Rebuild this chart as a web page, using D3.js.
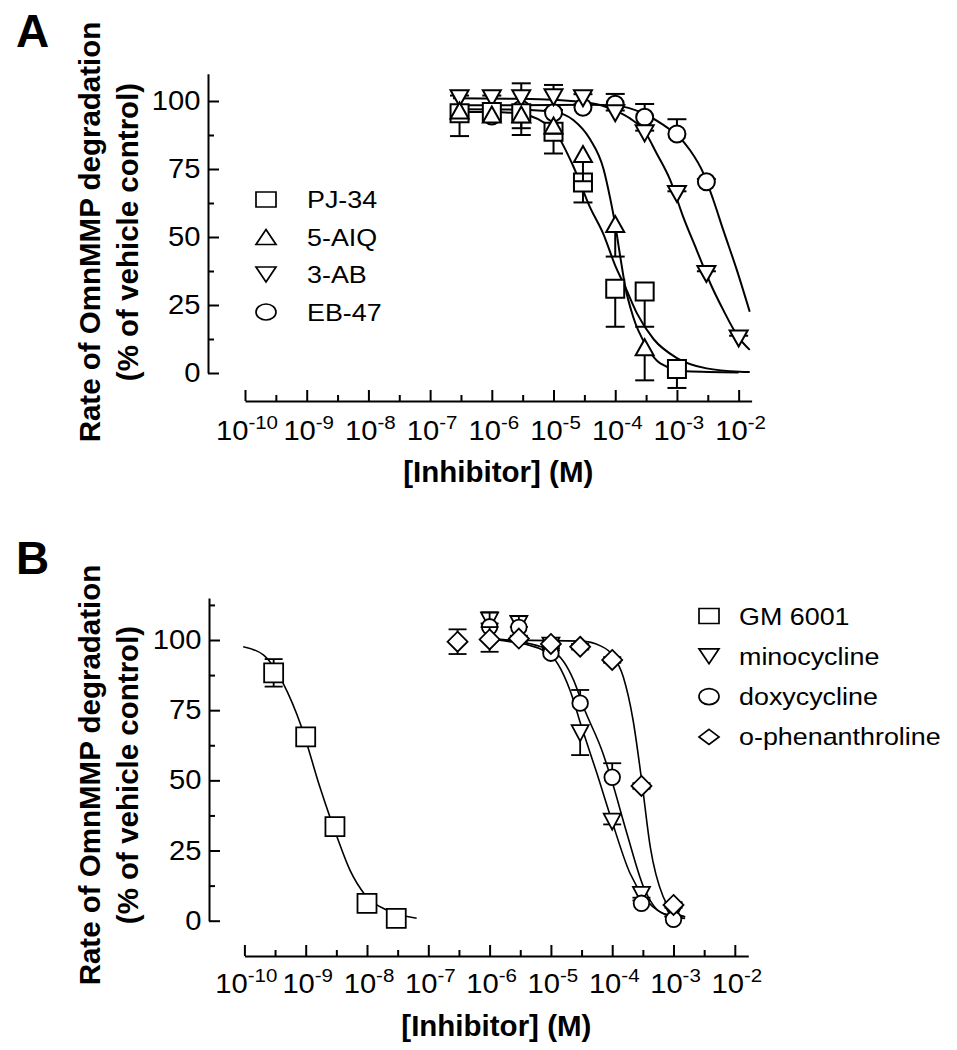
<!DOCTYPE html>
<html>
<head>
<meta charset="utf-8">
<script src="https://cdn.jsdelivr.net/npm/d3@7"></script>
<style>
  body { margin: 0; background: #fff; }
  svg { display: block; }
</style>
</head>
<body>
<svg id="chart" width="957" height="1050"></svg>
<script>
  // ---- Panel A : PARP inhibitors (concentration in M, % of vehicle control, SEM) ----
  var concA = [3e-7, 1e-6, 3e-6, 1e-5, 3e-5, 1e-4, 3e-4, 1e-3, 3e-3, 1e-2];
  var pj34Val = [95.5, 96, 95.5, 88.7, 70, 31, 30, 1.5];
  var pj34Err = [8.4, 2, 8, 8, 7.3, 14, 13, 7];
  var aiqVal = [96.5, 95, 95, 91, 80.5, 54.8, 9.5];
  var aiqErr = [2, 2, 5, 3, 10, 12, 12.2];
  var abVal = [101, 101, 101, 101.4, 101, 95.5, 88.1, 65.8, 36.4, 12.7];
  var abErr = [1, 1, 5.5, 4.5, 1.5, 1, 1, 1, 1, 1];
  var ebConc = [1e-6, 3e-6, 1e-5, 3e-5, 1e-4, 3e-4, 1e-3, 3e-3];
  var ebVal = [94.5, 97, 95.7, 97.7, 98.8, 94, 87.9, 70.3];
  var ebErr = [1, 1, 1, 1, 3.8, 4.9, 5.4, 1];

  // fitted curves (log10 M, %)
  var pj34CurveX = [-6.63, -6.0, -5.54, -5.0, -4.68, -4.41, -4.19, -4.0, -3.84, -3.65, -3.38, -3.0, -2.52, -1.98, -1.82];
  var pj34CurveY = [96, 96, 95.3, 89.3, 76, 61, 51, 39.5, 31.7, 22, 12.5, 5.5, 1.7, 0.5, 0.4];
  var aiqCurveX = [-6.63, -5.54, -5.0, -4.68, -4.41, -4.19, -4.08, -4.0, -3.92, -3.84, -3.71, -3.49, -3.27, -2.84, -2.0];
  var aiqCurveY = [97, 96.8, 96, 93, 86, 75, 64, 54.5, 43, 32, 20.7, 9.7, 3.5, 0.6, 0.2];
  var abCurveX = [-6.63, -5.54, -4.41, -4.0, -3.76, -3.52, -3.33, -3.11, -2.9, -2.68, -2.46, -2.25, -2.01, -1.82];
  var abCurveY = [101, 100.8, 99.3, 96.5, 93.6, 88.7, 80.8, 71.0, 57.5, 45.2, 33.0, 23.2, 13.4, 8.5];
  var ebCurveX = [-6.63, -5.0, -4.41, -4.0, -3.55, -3.22, -3.0, -2.79, -2.57, -2.41, -2.25, -2.03, -1.82];
  var ebCurveY = [98.4, 98.5, 98.6, 98.3, 95.5, 91.2, 87.5, 82.0, 73.4, 63.6, 52.6, 37.9, 22.5];

  // ---- Panel B : MMP inhibitors ----
  var gmConc = [3e-10, 1e-9, 3e-9, 1e-8, 3e-8];
  var gmVal = [88.3, 65.5, 33.5, 6.2, 0.8];
  var gmErr = [4.9, 1, 1, 1, 0.5];
  var tetraConc = [1e-6, 3e-6, 1e-5, 3e-5, 1e-4, 3e-4, 1e-3];
  var minoVal = [106.9, 105.7, 98, 66.8, 35.3, 9.2, 2.5];
  var minoErr = [1, 1, 1, 7.8, 1, 1, 1];
  var doxyVal = [104.7, 104.5, 95.3, 77.5, 51.1, 6.2, 0.5];
  var doxyErr = [5.2, 4, 1, 4.7, 5, 1, 1];
  var ophenConc = [3e-7, 1e-6, 3e-6, 1e-5, 3e-5, 1e-4, 3e-4, 1e-3];
  var ophenVal = [99.4, 100.2, 100.5, 98.6, 97.6, 92.9, 48, 5.6];
  var ophenErr = [4.4, 4.4, 1, 1, 1, 1, 1, 1];

  var gmCurveX = [-10.02, -9.69, -9.37, -9.07, -8.77, -8.49, -8.28, -8.03, -7.68, -7.19];
  var gmCurveY = [97.6, 94.7, 84.6, 69.1, 47.7, 29.9, 18.1, 9.2, 3.8, 0.9];
  var minoCurveX = [-6.0, -5.72, -5.07, -4.69, -4.5, -4.25, -4.01, -3.71, -3.49, -3.17, -2.81];
  var minoCurveY = [100.3, 99.6, 95.8, 82.2, 69.1, 52.5, 35.9, 16.9, 8.6, 2.6, 0.8];
  var doxyCurveX = [-6.0, -5.72, -4.96, -4.63, -4.47, -4.15, -4.01, -3.76, -3.49, -3.17, -2.81];
  var doxyCurveY = [100.5, 100, 95.8, 85.7, 76.2, 59.6, 50.1, 31.1, 12.1, 2.6, 1.4];
  var ophenCurveX = [-6.0, -4.5, -4.2, -3.99, -3.82, -3.66, -3.52, -3.38, -3.17, -2.95, -2.81];
  var ophenCurveY = [100, 99.6, 98, 94.5, 86.9, 71.5, 50.1, 26.4, 8.6, 2.6, 1.4];

  var yTicks = [0, 25, 50, 75, 100];
  var decades = [-10, -9, -8, -7, -6, -5, -4, -3, -2];
  var yTitle1 = "Rate of OmnMMP degradation";
  var yTitle2 = "(% of vehicle control)";
  var xTitle = "[Inhibitor] (M)";

  var FONT = '"Liberation Sans", Arial, Helvetica, sans-serif';
  var svg = d3.select("#chart").style("font-family", FONT);

  // outline of a marker, hw/hh = half width / half height
  function shapePath(shape, hw, hh) {
    if (shape === "square") return "M" + -hw + "," + -hh + "H" + hw + "V" + hh + "H" + -hw + "Z";
    if (shape === "up") return "M0," + -hh + "L" + hw + "," + hh + "L" + -hw + "," + hh + "Z";
    if (shape === "down") return "M0," + hh + "L" + hw + "," + -hh + "L" + -hw + "," + -hh + "Z";
    if (shape === "diamond") return "M0," + -hh + "L" + hw + ",0L0," + hh + "L" + -hw + ",0Z";
    return "M" + -hw + ",0A" + hw + "," + hh + " 0 1,0 " + hw + ",0A" + hw + "," + hh + " 0 1,0 " + -hw + ",0Z";
  }

  function drawPanel(p) {
    var g = svg.append("g");
    var x = d3.scaleLog().domain([1e-10, Math.pow(10, p.xEnd)]).range([p.x0, p.x1]);
    var y = d3.scaleLinear().domain([0, p.yTop]).range([p.y0, p.y1]);

    // panel letter
    g.append("text").attr("x", 16).attr("y", p.letterY)
      .attr("font-size", 46).attr("font-weight", "bold").text(p.letter);

    // y title (two lines, rotated)
    [[yTitle1, 100], [yTitle2, 138]].forEach(function(t) {
      g.append("text")
        .attr("transform", "translate(" + t[1] + "," + p.titleCY + ") rotate(-90)")
        .attr("text-anchor", "middle").attr("font-size", 29.5).attr("font-weight", "bold")
        .text(t[0]);
    });

    // y axis
    var yAx = g.append("g").attr("transform", "translate(" + p.yAxisX + ",0)")
      .call(d3.axisLeft(y).tickValues(yTicks).tickSizeInner(-11).tickSizeOuter(0).tickPadding(7));
    yAx.selectAll("path, line").attr("stroke", "#000").attr("stroke-width", 2);
    yAx.selectAll("text").attr("font-size", 27).attr("font-family", FONT).attr("fill", "#000")
      .attr("transform", "scale(1.08,1)");
    var yMinor = g.append("g").attr("transform", "translate(" + p.yAxisX + ",0)")
      .call(d3.axisLeft(y).tickValues(p.yMinor).tickSizeInner(-6).tickSizeOuter(0).tickFormat(""));
    yMinor.select(".domain").remove();
    yMinor.selectAll("line").attr("stroke", "#000").attr("stroke-width", 2);

    // x axis
    var majors = decades.map(function(e) { return Math.pow(10, e); });
    var minors = decades.slice(0, -1).map(function(e) { return Math.pow(10, e + 0.5); });
    var xAx = g.append("g").attr("transform", "translate(0," + p.xAxisY + ")")
      .call(d3.axisBottom(x).tickValues(majors).tickSizeInner(-11).tickSizeOuter(0).tickFormat(""));
    xAx.selectAll("path, line").attr("stroke", "#000").attr("stroke-width", 2);
    var xMinor = g.append("g").attr("transform", "translate(0," + p.xAxisY + ")")
      .call(d3.axisBottom(x).tickValues(minors).tickSizeInner(-6).tickSizeOuter(0).tickFormat(""));
    xMinor.select(".domain").remove();
    xMinor.selectAll("line").attr("stroke", "#000").attr("stroke-width", 2);

    decades.forEach(function(e) {
      var t = g.append("g")
        .attr("transform", "translate(" + (x(Math.pow(10, e)) + 2) + "," + p.xLabelY + ") scale(1.08,1)")
        .append("text").attr("text-anchor", "middle").attr("font-size", 27);
      t.append("tspan").text("10");
      t.append("tspan").attr("font-size", 19).attr("dy", -11).text("-" + Math.abs(e));
    });

    g.append("text").attr("x", (p.x0 + p.x1) / 2).attr("y", p.xTitleY)
      .attr("text-anchor", "middle").attr("font-size", 29.5).attr("font-weight", "bold")
      .text(xTitle);

    // fitted curves
    var line = d3.line()
      .x(function(d) { return x(Math.pow(10, d[0])); })
      .y(function(d) { return y(d[1]); })
      .curve(d3.curveMonotoneX);
    p.series.forEach(function(s) {
      g.append("path").datum(d3.zip(s.cx, s.cy)).attr("d", line)
        .attr("fill", "none").attr("stroke", "#000").attr("stroke-width", p.curveW);
    });

    // error bars + markers
    p.drawOrder.forEach(function(k) {
      var s = p.series[k];
      var pts = d3.zip(s.conc, s.val, s.err);
      var eg = g.append("g").attr("stroke", "#000").attr("stroke-width", p.markW);
      pts.forEach(function(d) {
        var ends = s.dir === 0 ? [d[1] - d[2], d[1] + d[2]] : [d[1] + s.dir * d[2]];
        ends.forEach(function(ev) {
          eg.append("line").attr("x1", x(d[0])).attr("x2", x(d[0]))
            .attr("y1", y(d[1])).attr("y2", y(ev));
          eg.append("line").attr("x1", x(d[0]) - p.capW / 2).attr("x2", x(d[0]) + p.capW / 2)
            .attr("y1", y(ev)).attr("y2", y(ev));
        });
      });
      var sz = p.sizes[s.shape];
      g.append("g").selectAll("path").data(pts).join("path")
        .attr("d", shapePath(s.shape, sz[0], sz[1]))
        .attr("transform", function(d) { return "translate(" + x(d[0]) + "," + y(d[1]) + ")"; })
        .attr("fill", "#fff").attr("stroke", "#000").attr("stroke-width", p.markW);
    });

    // legend
    p.series.forEach(function(s, i) {
      var ry = p.legY + i * p.legStep;
      g.append("path").attr("d", shapePath(s.shape, 10, s.shape === "circle" ? 8 : 7.5))
        .attr("transform", "translate(" + p.legX + "," + ry + ")")
        .attr("fill", "#fff").attr("stroke", "#000").attr("stroke-width", 1.7);
      g.append("g").attr("transform", "translate(" + p.legTextX + "," + (ry + 8.5) + ") scale(1.12,1)")
        .append("text").attr("font-size", 24).text(s.name);
    });
  }

  drawPanel({
    letter: "A", letterY: 47, titleCY: 232,
    x0: 245, x1: 751.6, xEnd: -1.79, xAxisY: 401, xLabelY: 440, xTitleY: 482,
    y0: 373, y1: 73.8, yTop: 110, yAxisX: 208, yMinor: [12.5, 37.5, 62.5, 87.5],
    curveW: 2, markW: 2, capW: 19,
    sizes: { square: [9, 9], up: [9, 8], down: [9, 8], circle: [8.5, 8.5], diamond: [10, 10] },
    legX: 266, legTextX: 307, legY: 199.5, legStep: 37.5,
    series: [
      { name: "PJ-34", shape: "square", conc: concA.slice(0, pj34Val.length), val: pj34Val, err: pj34Err, dir: -1, cx: pj34CurveX, cy: pj34CurveY },
      { name: "5-AIQ", shape: "up", conc: concA.slice(0, aiqVal.length), val: aiqVal, err: aiqErr, dir: -1, cx: aiqCurveX, cy: aiqCurveY },
      { name: "3-AB", shape: "down", conc: concA.slice(0, abVal.length), val: abVal, err: abErr, dir: 1, cx: abCurveX, cy: abCurveY },
      { name: "EB-47", shape: "circle", conc: ebConc, val: ebVal, err: ebErr, dir: 1, cx: ebCurveX, cy: ebCurveY }
    ],
    drawOrder: [3, 2, 0, 1]
  });

  drawPanel({
    letter: "B", letterY: 574, titleCY: 775,
    x0: 244.4, x1: 748.3, xEnd: -1.78, xAxisY: 956, xLabelY: 993, xTitleY: 1036,
    y0: 920.7, y1: 597.9, yTop: 115, yAxisX: 209, yMinor: [12.5, 37.5, 62.5, 87.5, 112.5],
    curveW: 1.6, markW: 1.8, capW: 18,
    sizes: { square: [9.5, 9.5], up: [8.5, 8], down: [8.5, 8], circle: [7.8, 7.8], diamond: [10, 10] },
    legX: 709, legTextX: 739, legY: 616, legStep: 40.3,
    series: [
      { name: "GM 6001", shape: "square", conc: gmConc, val: gmVal, err: gmErr, dir: 0, cx: gmCurveX, cy: gmCurveY },
      { name: "minocycline", shape: "down", conc: tetraConc, val: minoVal, err: minoErr, dir: -1, cx: minoCurveX, cy: minoCurveY },
      { name: "doxycycline", shape: "circle", conc: tetraConc, val: doxyVal, err: doxyErr, dir: 1, cx: doxyCurveX, cy: doxyCurveY },
      { name: "o-phenanthroline", shape: "diamond", conc: ophenConc, val: ophenVal, err: ophenErr, dir: 0, cx: ophenCurveX, cy: ophenCurveY }
    ],
    drawOrder: [0, 1, 2, 3]
  });
</script>
</body>
</html>
